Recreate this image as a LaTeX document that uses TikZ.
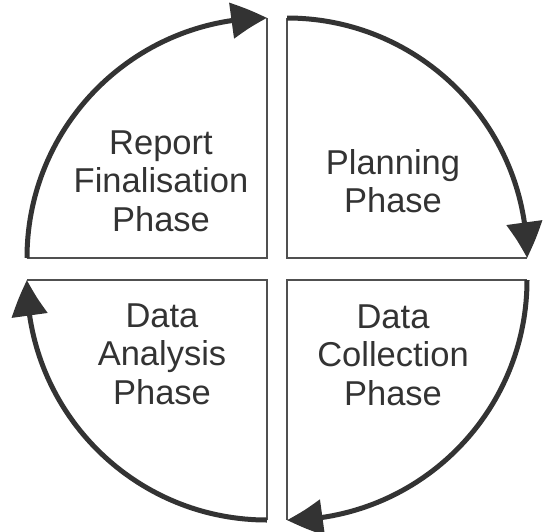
\documentclass[tikz,border=0pt]{standalone}
\usepackage{fontspec}
\setmainfont{Liberation Sans}
\usetikzlibrary{arrows.meta,bending}
\definecolor{arcc}{HTML}{333333}
\definecolor{edgec}{HTML}{505050}
\definecolor{txtc}{HTML}{333333}
\tikzset{
  edge/.style={draw=edgec, line width=1.5pt},
  cyc/.style={draw=arcc, line width=5pt, -{Triangle[length=36pt,width=35pt,bend]}},
  lbl/.style={align=center, text=txtc, font=\fontsize{34.5}{38.5}\selectfont, inner sep=0pt}
}
\begin{document}
\begin{tikzpicture}[x=1pt,y=-1pt]
\useasboundingbox (0,0) rectangle (548,531);
% corners
\coordinate (ctl) at (267,258);
\coordinate (ctr) at (287,258);
\coordinate (cbr) at (287,280);
\coordinate (cbl) at (267,280);
% arc end points
\coordinate (tlA) at (27,258);  \coordinate (tlB) at (267,18);
\coordinate (trA) at (287,18);  \coordinate (trB) at (527,258);
\coordinate (brA) at (527,280); \coordinate (brB) at (287,520);
\coordinate (blA) at (267,520); \coordinate (blB) at (27,280);
% straight edges
\draw[edge] (tlA) -- (ctl) -- (tlB);
\draw[edge] (trA) -- (ctr) -- (trB);
\draw[edge] (brA) -- (cbr) -- (brB);
\draw[edge] (blA) -- (cbl) -- (blB);
% arcs
\draw[cyc] (tlA) arc[start angle=180, end angle=270, radius=240];
\draw[cyc] (trA) arc[start angle=270, end angle=360, radius=240];
\draw[cyc] (brA) arc[start angle=0, end angle=90, radius=240];
\draw[cyc] (blA) arc[start angle=90, end angle=180, radius=240];
% labels
\node[lbl] (report) at (161,181) {Report\\Finalisation\\Phase};
\node[lbl] (plan) at (393,181) {Planning\\Phase};
\node[lbl] (collect) at (393,355) {Data\\Collection\\Phase};
\node[lbl] (analysis) at (162,354) {Data\\Analysis\\Phase};
\end{tikzpicture}
\end{document}
